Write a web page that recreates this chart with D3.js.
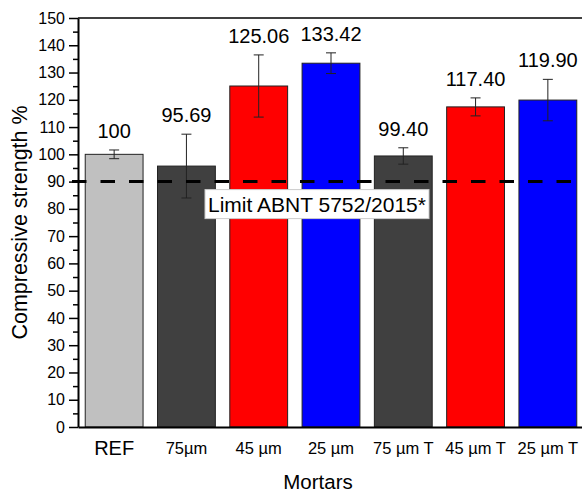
<!DOCTYPE html>
<meta charset="utf-8">
<script src="https://d3js.org/d3.v7.min.js"></script>
<style>
  body { margin: 0; background: #fff; }
  text { font-family: "Liberation Sans", Arial, sans-serif; fill: #000; }
</style>
<div id="vis"></div>
<script type="text/javascript">

var mortars = ["REF", "75µm", "45 µm", "25 µm", "75 µm T", "45 µm T", "25 µm T"];
var strength = [100, 95.69, 125.06, 133.42, 99.40, 117.40, 119.90];
var errors = [1.6, 11.7, 11.4, 3.8, 3.0, 3.3, 7.6];
var valueLabels = ["100", "95.69", "125.06", "133.42", "99.40", "117.40", "119.90"];
var yTicks = [0, 10, 20, 30, 40, 50, 60, 70, 80, 90, 100, 110, 120, 130, 140, 150];
var limit = 90;
var limitLabel = "Limit ABNT 5752/2015*";

var barColors = ["#c0c0c0", "#404040", "#ff0000", "#0000ff", "#404040", "#ff0000", "#0000ff"];

var margin = {top: 18, right: -2, bottom: 65, left: 78},
    width = 582 - margin.left - margin.right,
    height = 492 - margin.top - margin.bottom;

var root = d3.select("#vis")
  .append("svg")
    .attr("width", 582)
    .attr("height", 492);

var svg = root.append("g")
    .attr("transform", "translate(" + margin.left + "," + margin.top + ")");

var x = d3.scaleBand()
  .domain(mortars)
  .range([0, width])
  .paddingInner(0.2)
  .paddingOuter(0.1);

var y = d3.scaleLinear()
  .domain([0, 150])
  .range([height, 0]);

// frame top
svg.append("line")
  .attr("x1", 0).attr("x2", width)
  .attr("y1", 0).attr("y2", 0)
  .attr("stroke", "#000").attr("stroke-width", 1.5);

// bars
svg.selectAll("rect.bar").data(mortars)
  .enter().append("rect")
    .attr("class", "bar")
    .attr("x", d => x(d))
    .attr("y", (d, i) => y(strength[i]))
    .attr("width", x.bandwidth())
    .attr("height", (d, i) => height - y(strength[i]))
    .attr("fill", (d, i) => barColors[i])
    .attr("stroke", "#222")
    .attr("stroke-width", 1);

// error bars
var eb = svg.append("g").selectAll("g").data(mortars)
  .enter().append("g")
    .attr("transform", d => "translate(" + (x(d) + x.bandwidth() / 2) + ",0)");

eb.append("line")
  .attr("y1", (d, i) => y(strength[i] + errors[i]))
  .attr("y2", (d, i) => y(strength[i] - errors[i]))
  .attr("stroke", "#222").attr("stroke-width", 1);
eb.append("line")
  .attr("x1", -5).attr("x2", 5)
  .attr("y1", (d, i) => y(strength[i] + errors[i]))
  .attr("y2", (d, i) => y(strength[i] + errors[i]))
  .attr("stroke", "#222").attr("stroke-width", 1);
eb.append("line")
  .attr("x1", -5).attr("x2", 5)
  .attr("y1", (d, i) => y(strength[i] - errors[i]))
  .attr("y2", (d, i) => y(strength[i] - errors[i]))
  .attr("stroke", "#222").attr("stroke-width", 1);

// value labels
eb.append("text")
  .attr("y", (d, i) => y(strength[i] + errors[i]) - 12)
  .attr("text-anchor", "middle")
  .style("font-size", "20px")
  .text((d, i) => valueLabels[i]);

// limit line
svg.append("line")
  .attr("x1", -6).attr("x2", width)
  .attr("y1", y(limit)).attr("y2", y(limit))
  .attr("stroke", "#000")
  .attr("stroke-width", 3)
  .attr("stroke-dasharray", "14.5,14");

var lg = svg.append("g").attr("transform", "translate(127," + (y(limit) + 8) + ")");
lg.append("rect")
  .attr("width", 224).attr("height", 29)
  .attr("fill", "#fff")
  .attr("stroke", "#ccc");
lg.append("text")
  .attr("x", 3).attr("y", 22)
  .style("font-size", "21px")
  .text(limitLabel);

// y axis
var yMinor = d3.range(5, 150, 10);
svg.append("g")
  .call(d3.axisLeft(y).tickValues(yMinor).tickSize(5).tickFormat(""))
  .call(g => g.select(".domain").remove())
  .call(g => g.selectAll("line").attr("stroke-width", 1.5));

svg.append("g")
  .call(d3.axisLeft(y).tickValues(yTicks).tickSize(9).tickPadding(4).tickSizeOuter(0))
  .call(g => g.select(".domain").attr("stroke-width", 2))
  .call(g => g.selectAll("line").attr("stroke-width", 1.5))
  .call(g => g.selectAll("text").style("font-size", "16px").attr("font-family", null));

// x axis
svg.append("g")
  .attr("transform", "translate(0," + height + ")")
  .call(d3.axisBottom(x).tickSize(0).tickPadding(10).tickSizeOuter(0))
  .call(g => g.select(".domain").attr("stroke-width", 2))
  .call(g => g.selectAll("text")
    .attr("font-family", null)
    .style("font-size", (d, i) => i === 0 ? "20px" : "16.5px")
    .attr("dy", (d, i) => i === 0 ? "0.9em" : "1.0em"));

// axis titles
svg.append("text")
  .attr("transform", "translate(-51," + (height / 2) + ") rotate(-90)")
  .attr("text-anchor", "middle")
  .style("font-size", "21.5px")
  .text("Compressive strength %");

svg.append("text")
  .attr("x", 240)
  .attr("y", height + 62)
  .attr("text-anchor", "middle")
  .style("font-size", "20.5px")
  .text("Mortars");

</script>
